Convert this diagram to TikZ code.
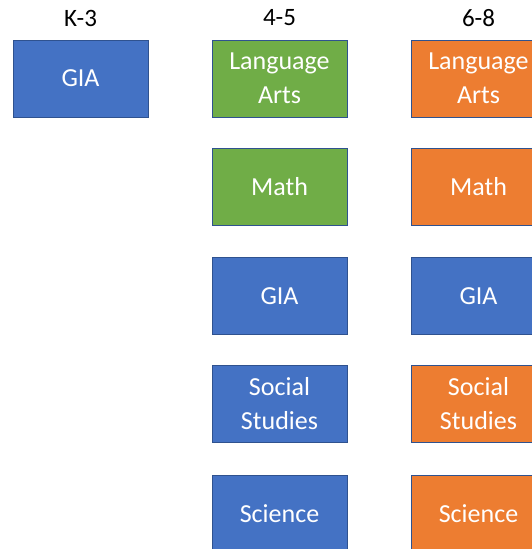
\documentclass[tikz,border=0pt]{standalone}
\usepackage{fontspec}
\setmainfont{Carlito}
\definecolor{boxblue}{HTML}{4472C4}
\definecolor{boxgreen}{HTML}{70AD47}
\definecolor{boxorange}{HTML}{ED7D31}
\definecolor{edge}{HTML}{2F528F}
\begin{document}
\begin{tikzpicture}[x=1pt,y=1pt,
  cell/.style={draw=edge, line width=0.8pt, minimum width=135pt, minimum height=77pt,
    inner sep=0pt, text=white, align=center, font=\fontsize{26}{34}\selectfont},
  blue/.style={cell, fill=boxblue},
  green/.style={cell, fill=boxgreen},
  orange/.style={cell, fill=boxorange},
  head/.style={font=\fontsize{25}{28}\selectfont, text=black}]
\useasboundingbox (0,0) rectangle (532,-549);
\begin{scope}
\clip (0,0) rectangle (532,-549);
\node[head] (h1) at (80.5,-18) {K-3};
\node[head] (h2) at (279.5,-18) {4-5};
\node[head] (h3) at (478.5,-18) {6-8};
% column 1
\node[blue] (a1) at (80.5,-78.5) {GIA};
% column 2
\node[green] (b1) at (279.5,-78.5) {Language\\Arts};
\node[green] (b2) at (279.5,-187) {Math};
\node[blue] (b3) at (279.5,-296) {GIA};
\node[blue] (b4) at (279.5,-404) {Social\\Studies};
\node[blue] (b5) at (279.5,-513.5) {Science};
% column 3
\node[orange] (c1) at (478.5,-78.5) {Language\\Arts};
\node[orange] (c2) at (478.5,-187) {Math};
\node[blue] (c3) at (478.5,-296) {GIA};
\node[orange] (c4) at (478.5,-404) {Social\\Studies};
\node[orange] (c5) at (478.5,-513.5) {Science};
\end{scope}
\end{tikzpicture}
\end{document}
